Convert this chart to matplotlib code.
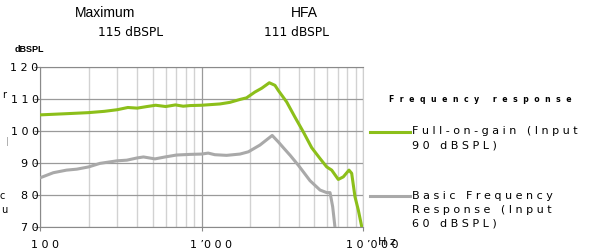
import matplotlib.pyplot as plt
from matplotlib.lines import Line2D
from matplotlib.transforms import ScaledTranslation

# Frequency response curves (Hz, dBSPL)
green_freq = [100, 150, 200, 250, 300, 350, 400, 460, 520, 600, 690, 770, 850, 1000,
              1300, 1500, 1730, 1900, 2140, 2360, 2630, 2850, 2990, 3370, 3790, 4270,
              4810, 5420, 5960, 6400, 7030, 7550, 8190, 8510, 8920, 9350, 9820]
green_db = [105.0, 105.4, 105.7, 106.1, 106.6, 107.3, 107.1, 107.6, 108.0, 107.6, 108.1, 107.7, 107.9, 108.0,
            108.4, 108.9, 109.8, 110.3, 112.1, 113.3, 115.0, 114.2, 112.6, 109.0, 104.3, 99.7,
            94.8, 91.4, 88.8, 87.8, 84.9, 85.7, 87.8, 86.8, 79.5, 75.4, 70.2]

gray_freq = [100, 121, 146, 169, 200, 235, 300, 345, 400, 437, 515, 595, 700, 850, 1000,
             1100, 1210, 1430, 1730, 1950, 2300, 2740, 3000, 3210, 3540, 3980, 4700,
             5420, 5960, 6250, 6490, 6700]
gray_db = [85.4, 87.0, 87.8, 88.1, 88.8, 89.9, 90.7, 90.9, 91.6, 91.9, 91.3, 91.9, 92.5, 92.7, 92.8,
           93.1, 92.6, 92.4, 92.8, 93.5, 95.6, 98.6, 96.5, 94.8, 92.4, 89.3, 84.5,
           81.6, 80.8, 80.8, 76.4, 70.2]

y_ticks = [70, 80, 90, 100, 110, 120]
y_tick_labels = ['7 0', '8 0', '9 0', '1 0 0', '1 1 0', '1 2 0']
x_ticks = [100, 1000, 10000]
x_tick_labels = ['1 0 0', '1 \u20190 0 0', '1 0 \u20190 0 0']
minor_ticks = [200, 300, 400, 500, 600, 700, 800, 900,
               2000, 3000, 4000, 5000, 6000, 7000, 8000, 9000]

green = '#8cbf1a'
gray = '#a9a9a9'


def spaced(s, gap=' '):
    return gap.join(s)


W, H = 596, 250
fig = plt.figure(figsize=(W / 100, H / 100), dpi=100)
ax = fig.add_axes([40 / W, 1 - 227.3 / H, 323 / W, 160.6 / H])
ax.set_xscale('log')
ax.plot(green_freq, green_db, color=green, lw=2.2, solid_capstyle='round', zorder=3)
ax.plot(gray_freq, gray_db, color=gray, lw=2.2, solid_capstyle='round', zorder=3)
ax.set_xlim(100, 10000)
ax.set_ylim(70, 120)

ax.set_yticks(y_ticks)
ax.set_yticklabels(y_tick_labels)
ax.set_xticks(x_ticks)
ax.set_xticklabels(x_tick_labels)
ax.set_xticks(minor_ticks, minor=True)
ax.set_xticklabels([], minor=True)

ax.grid(True, which='major', axis='y', color='#9a9a9a', lw=0.9)
ax.grid(True, which='major', axis='x', color='#9a9a9a', lw=0.9)
ax.grid(True, which='minor', axis='x', color='#d2d2d2', lw=1.0)
ax.set_axisbelow(True)

ax.tick_params(axis='y', direction='out', length=4, color='#888888', labelsize=8, pad=-3)
ax.tick_params(axis='x', which='major', direction='out', length=3, color='#888888', labelsize=8, pad=6)
ax.tick_params(axis='x', which='minor', length=0)
for lab, dx in zip(ax.get_xticklabels(), [0.05, 0.09, 0.09]):
    lab.set_transform(lab.get_transform() + ScaledTranslation(dx, 0, fig.dpi_scale_trans))

for side in ['left', 'bottom', 'top']:
    ax.spines[side].set_color('#8a8a8a')
ax.spines['right'].set_color('#cfcfcf')

# Hz unit overlapping the last tick label
ax.annotate('H z', xy=(1, 0), xycoords='axes fraction', xytext=(24, -14.5),
            textcoords='offset pixels', ha='center', va='center', fontsize=8)


def px(x, y):
    return x / W, 1 - y / H


fig.text(*px(105.5, 13), 'Maximum', ha='center', va='center', fontsize=10, family='Liberation Sans')
fig.text(*px(130.5, 32), '115 dBSPL', ha='center', va='center', fontsize=8.8)
fig.text(*px(304, 13), 'HFA', ha='center', va='center', fontsize=10, family='Liberation Sans')
fig.text(*px(296, 32), '111 dBSPL', ha='center', va='center', fontsize=8.8)
fig.text(*px(29.5, 50), 'dBSPL', ha='center', va='center', fontsize=6.5,
         family='Liberation Sans', weight='bold')

# clipped fragments at the left edge
fig.text(*px(4, 95), 'r', ha='center', va='center', fontsize=7)
fig.text(*px(7, 142), '|', ha='center', va='center', fontsize=6, color='#999999')
fig.text(*px(2, 196), 'c', ha='center', va='center', fontsize=7)
fig.text(*px(4, 210), 'u', ha='center', va='center', fontsize=7)

# legend
fig.text(*px(389, 100), spaced('Frequency', '  ') + '     ' + spaced('response', '  '),
         ha='left', va='center', fontsize=5.6, weight='bold')

legend_size = 8
fig.add_artist(Line2D([370 / W, 410 / W], [1 - 132.3 / H] * 2, color=green, lw=2.2))
fig.text(*px(412, 131.5), spaced('Full-on-gain') + '   ' + spaced('(Input'),
         ha='left', va='center', fontsize=legend_size)
fig.text(*px(412, 145), spaced('90') + '   ' + spaced('dBSPL)'),
         ha='left', va='center', fontsize=legend_size)

fig.add_artist(Line2D([370 / W, 410 / W], [1 - 196 / H] * 2, color=gray, lw=2.2))
fig.text(*px(412, 196), spaced('Basic') + '   ' + spaced('Frequency'),
         ha='left', va='center', fontsize=legend_size)
fig.text(*px(412, 210), spaced('Response') + '   ' + spaced('(Input'),
         ha='left', va='center', fontsize=legend_size)
fig.text(*px(412, 224), spaced('60') + '   ' + spaced('dBSPL)'),
         ha='left', va='center', fontsize=legend_size)

fig.savefig('out.png', dpi=100)
